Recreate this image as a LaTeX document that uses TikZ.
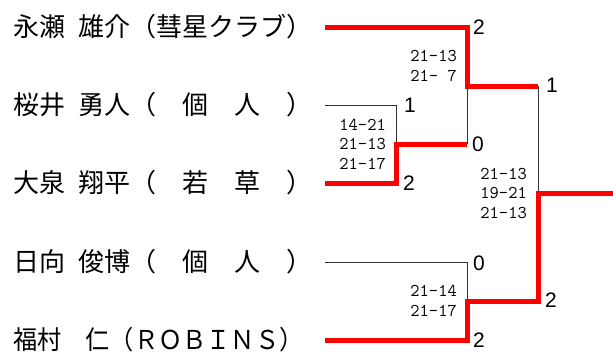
\documentclass[tikz,border=0pt]{standalone}
\usepackage{fontspec}
\setmainfont{Liberation Sans}
\newfontfamily\jpfont{Noto Sans CJK JP}
\newcommand\hsp{\hspace{0.5em}}
\begin{document}
\begin{tikzpicture}[x=1pt,y=-1pt,
  win/.style={red, line width=5pt},
  lose/.style={black!80, line width=1pt},
  pname/.style={anchor=west, inner sep=0pt, font=\jpfont\fontsize{26}{26}\selectfont},
  pts/.style={anchor=west, inner sep=0pt, font=\fontsize{21}{21}\selectfont},
  score/.style={anchor=east, inner sep=0pt, align=right, font=\ttfamily\fontsize{18}{19.5}\selectfont}]
\useasboundingbox (0,0) rectangle (613,354);

% coordinates
\coordinate (a1) at (325,27);  \coordinate (b1) at (467,27);
\coordinate (a2) at (325,105); \coordinate (b2) at (396,105);
\coordinate (a3) at (325,183); \coordinate (b3) at (396,183);
\coordinate (a4) at (325,262); \coordinate (b4) at (467,262);
\coordinate (a5) at (325,340); \coordinate (b5) at (467,340);
\coordinate (m1) at (396,144); \coordinate (n1) at (467,144);
\coordinate (s1) at (467,86);  \coordinate (t1) at (538,86);
\coordinate (m2) at (467,301); \coordinate (n2) at (538,301);
\coordinate (f)  at (538,193); \coordinate (w)  at (613,193);

% names
\node[pname] (p1) at (13,27)  {永瀬\hsp 雄介（彗星クラブ）};
\node[pname] (p2) at (13,105) {桜井\hsp 勇人（　個　人　）};
\node[pname] (p3) at (13,183) {大泉\hsp 翔平（　若　草　）};
\node[pname] (p4) at (13,262) {日向\hsp 俊博（　個　人　）};
\node[pname] (p5) at (13,340) {\scalebox{0.93}[1]{福村　仁（ＲＯＢＩＮＳ）}};

% losing lines
\draw[lose] (a2) -- (b2) -- (m1);
\draw[lose] (n1) -- (s1);
\draw[lose] (a4) -- (b4) -- (m2);
\draw[lose] (t1) -- (f);

% winning lines
\draw[win] (a1) -- (b1) -- (s1) -- (t1);
\draw[win] (a3) -- (b3) -- (m1) -- (n1);
\draw[win] (a5) -- (b5) -- (m2) -- (n2) -- (f) -- (w);

% game counts
\node[pts] (g1) at (473,27)  {2};
\node[pts] (g2) at (404,105) {1};
\node[pts] (g3) at (472,144) {0};
\node[pts] (g4) at (403,183) {2};
\node[pts] (g5) at (546,85)  {1};
\node[pts] (g6) at (473,263) {0};
\node[pts] (g7) at (545,300) {2};
\node[pts] (g8) at (473,340) {2};

% scores
\node[score] (sa) at (457,66)  {21-13\\21- 7};
\node[score] (sb) at (386,144) {14-21\\21-13\\21-17};
\node[score] (sc) at (527,193) {21-13\\19-21\\21-13};
\node[score] (sd) at (457,301) {21-14\\21-17};
\end{tikzpicture}
\end{document}
